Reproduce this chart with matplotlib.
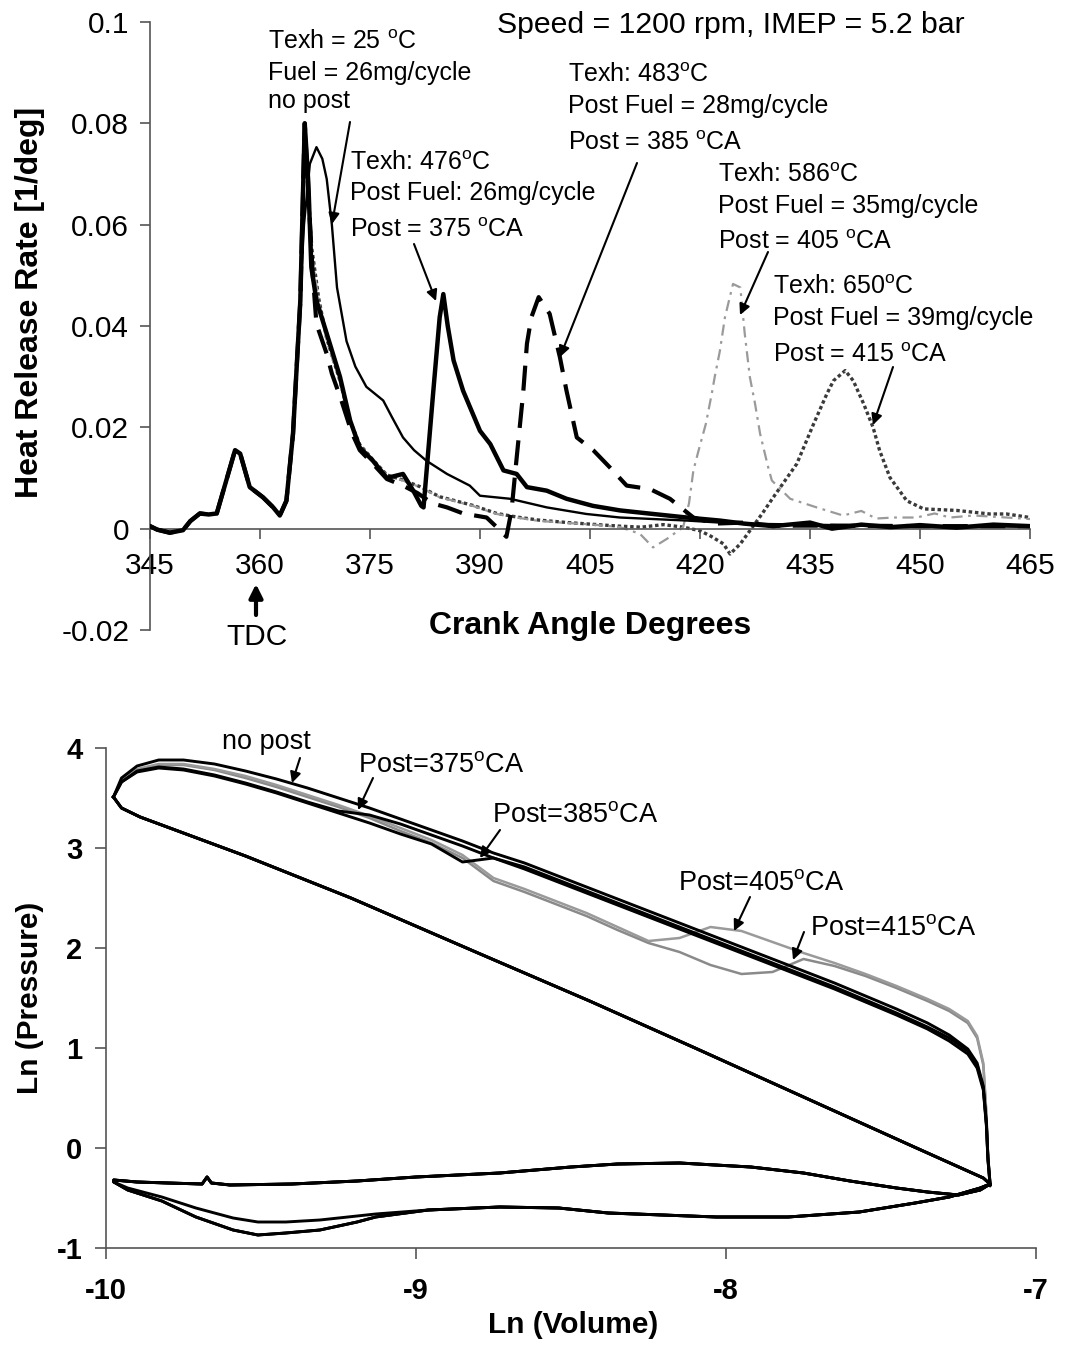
import matplotlib
matplotlib.use('Agg')
import matplotlib.pyplot as plt
import numpy as np

plt.rcParams['font.family'] = ['Liberation Sans', 'DejaVu Sans']
plt.rcParams['mathtext.fontset'] = 'custom'
plt.rcParams['mathtext.rm'] = 'Liberation Sans'
plt.rcParams['mathtext.it'] = 'Liberation Sans:italic'
plt.rcParams['mathtext.bf'] = 'Liberation Sans:bold'
plt.rcParams['lines.scale_dashes'] = False

# ---------------- Top chart data (crank angle vs heat release rate) -------------
x_ticks_top = [345, 360, 375, 390, 405, 420, 435, 450, 465]
y_ticks_top = [-0.02, 0, 0.02, 0.04, 0.06, 0.08, 0.1]
y_ticklabels_top = ['-0.02', '0', '0.02', '0.04', '0.06', '0.08', '0.1']

# common pilot + main combustion rise
pilot_deg = [345.0, 346.0, 347.7, 349.5, 350.5, 351.8, 353.0, 354.1, 355.5, 356.6,
             357.3, 358.6, 360.4, 361.8, 362.7, 363.6, 364.5, 365.5, 366.1]
pilot_hrr = [0.0005, -0.0002, -0.0008, -0.0003, 0.0015, 0.0030, 0.0028, 0.0030, 0.0100, 0.0155,
             0.0148, 0.0082, 0.0062, 0.0042, 0.0026, 0.0055, 0.0187, 0.0450, 0.0800]

# no post injection (thin solid)
nopost_deg = [366.0, 366.8, 367.7, 368.5, 369.1, 369.8, 370.5, 371.8, 373.0, 374.5, 376.8, 378.0,
              379.5, 381.0, 382.7, 385.5, 388.6, 390.0, 394.1, 399.1, 404.5, 409.1, 418.2, 425.0,
              435.0, 445.0, 455.0, 465.0]
nopost_hrr = [0.0600, 0.0720, 0.0753, 0.0730, 0.0690, 0.0600, 0.0476, 0.0370, 0.0320, 0.0280, 0.0253, 0.0220,
              0.0180, 0.0155, 0.0134, 0.0108, 0.0085, 0.0065, 0.0059, 0.0042, 0.0029, 0.0022, 0.0016, 0.0010,
              0.0008, 0.0005, 0.0005, 0.0004]

# post = 375 CA (thick solid)
p375_deg = [366.6, 367.0, 367.7, 369.1, 370.9, 372.3, 373.6, 375.4, 377.3, 379.5, 380.9, 382.0,
            382.3, 383.6, 384.5, 385.0, 385.6, 386.4, 387.7, 390.0, 391.4, 393.2, 395.0, 396.4,
            399.1, 401.8, 405.4, 409.1, 413.6, 418.2, 422.7, 426.0, 430.0, 435.0, 438.0, 442.0,
            446.0, 450.0, 455.0, 460.0, 465.0]
p375_hrr = [0.0680, 0.0516, 0.0450, 0.0385, 0.0300, 0.0213, 0.0160, 0.0134, 0.0100, 0.0108, 0.0075, 0.0045,
            0.0042, 0.0266, 0.0417, 0.0463, 0.0400, 0.0332, 0.0272, 0.0193, 0.0167, 0.0115, 0.0108, 0.0082,
            0.0075, 0.0059, 0.0045, 0.0036, 0.0029, 0.0022, 0.0016, 0.0010, 0.0005, 0.0012, 0.0000, 0.0008,
            0.0003, 0.0007, 0.0002, 0.0008, 0.0005]

# post = 385 CA (long dashes)
p385_deg = [366.6, 367.2, 367.7, 369.1, 369.8, 371.1, 372.5, 373.6, 375.4, 377.3, 379.5, 381.5,
            383.5, 385.5, 387.7, 390.9, 392.5, 393.6, 394.3, 395.0, 395.9, 396.4, 397.0, 398.0,
            399.5, 400.9, 401.8, 403.2, 405.5, 407.7, 410.0, 413.2, 415.9, 419.1, 422.0, 426.0,
            430.0, 440.0, 450.0, 465.0]
p385_hrr = [0.0660, 0.0500, 0.0404, 0.0345, 0.0306, 0.0253, 0.0190, 0.0155, 0.0128, 0.0098, 0.0085, 0.0070,
            0.0050, 0.0042, 0.0030, 0.0022, 0.0000, -0.0016, 0.0036, 0.0140, 0.0270, 0.0365, 0.0417, 0.0457,
            0.0424, 0.0338, 0.0272, 0.0180, 0.0154, 0.0121, 0.0085, 0.0078, 0.0059, 0.0022, 0.0010, 0.0012,
            0.0006, 0.0006, 0.0005, 0.0005]

# post = 405 CA (light grey)
p405_deg = [367.0, 368.0, 369.1, 370.9, 372.3, 373.6, 375.4, 377.3, 379.5, 381.8, 384.5, 386.4,
            389.0, 392.3, 395.0, 397.7, 401.0, 404.5, 407.0, 409.1, 411.8, 413.6, 415.5, 417.7,
            418.5, 419.1, 419.8, 420.8, 421.6, 422.0, 422.7, 423.4, 424.5, 425.5, 426.1, 426.8,
            427.5, 428.2, 429.3, 429.8, 432.3, 435.9, 439.5, 442.0, 444.0, 446.4, 449.5, 452.0,
            454.1, 457.3, 461.8, 465.0]
p405_hrr = [0.0550, 0.0450, 0.0370, 0.0290, 0.0210, 0.0165, 0.0135, 0.0105, 0.0095, 0.0082, 0.0062, 0.0055,
            0.0045, 0.0029, 0.0022, 0.0016, 0.0012, 0.0009, 0.0006, 0.0003, -0.0010, -0.0037, -0.0020, 0.0003,
            0.0050, 0.0115, 0.0154, 0.0207, 0.0266, 0.0299, 0.0350, 0.0417, 0.0483, 0.0476, 0.0385, 0.0299,
            0.0247, 0.0187, 0.0121, 0.0095, 0.0059, 0.0042, 0.0026, 0.0035, 0.0020, 0.0022, 0.0022, 0.0030,
            0.0022, 0.0026, 0.0022, 0.0019]

# post = 415 CA (dark dotted)
p415_deg = [367.0, 368.0, 369.1, 370.9, 372.3, 373.6, 375.4, 377.3, 379.5, 381.8, 384.5, 386.4,
            389.0, 392.3, 395.0, 398.0, 402.0, 405.0, 409.0, 412.0, 415.0, 417.7, 420.0, 421.5,
            423.2, 424.1, 425.5, 426.8, 428.5, 430.0, 433.2, 435.5, 437.3, 438.2, 439.8, 440.9,
            442.3, 443.6, 444.5, 445.9, 448.2, 450.5, 455.0, 459.5, 461.8, 465.0]
p415_hrr = [0.0560, 0.0455, 0.0375, 0.0292, 0.0212, 0.0166, 0.0136, 0.0106, 0.0096, 0.0083, 0.0063, 0.0056,
            0.0046, 0.0030, 0.0023, 0.0017, 0.0012, 0.0009, 0.0005, 0.0003, 0.0008, 0.0003, -0.0004, -0.0015,
            -0.0030, -0.0050, -0.0030, -0.0004, 0.0030, 0.0062, 0.0128, 0.0207, 0.0266, 0.0292, 0.0312, 0.0292,
            0.0247, 0.0200, 0.0154, 0.0101, 0.0055, 0.0039, 0.0036, 0.0029, 0.0029, 0.0022]

# ---------------- Bottom chart data (ln V vs ln P) -----------------------------
x_ticks_bot = [-10, -9, -8, -7]
y_ticks_bot = [-1, 0, 1, 2, 3, 4]

exp_lnV = [-9.976, -9.95, -9.90, -9.83, -9.75, -9.65, -9.55, -9.45, -9.35, -9.25, -9.15, -9.05,
           -8.95, -8.85, -8.75, -8.65, -8.55, -8.45, -8.35, -8.25, -8.15, -8.05, -7.95, -7.85,
           -7.75, -7.65, -7.55, -7.45, -7.35, -7.28, -7.22, -7.19, -7.17, -7.16, -7.155, -7.148]
lnP_nopost = [3.51, 3.70, 3.82, 3.88, 3.88, 3.84, 3.77, 3.69, 3.60, 3.50, 3.40, 3.29,
              3.18, 3.07, 2.95, 2.85, 2.73, 2.61, 2.49, 2.37, 2.25, 2.13, 2.01, 1.89,
              1.77, 1.65, 1.52, 1.39, 1.25, 1.13, 0.99, 0.85, 0.62, 0.25, -0.10, -0.36]
lnP_post375 = [3.51, 3.66, 3.77, 3.81, 3.79, 3.73, 3.65, 3.56, 3.46, 3.37, 3.33, 3.24,
               3.13, 3.02, 2.90, 2.79, 2.67, 2.55, 2.43, 2.31, 2.19, 2.07, 1.95, 1.83,
               1.71, 1.59, 1.46, 1.33, 1.19, 1.07, 0.94, 0.80, 0.58, 0.22, -0.12, -0.38]
lnP_post385 = [3.51, 3.66, 3.76, 3.80, 3.78, 3.72, 3.64, 3.55, 3.45, 3.35, 3.25, 3.14,
               3.04, 2.86, 2.90, 2.81, 2.69, 2.57, 2.45, 2.33, 2.21, 2.09, 1.97, 1.85,
               1.73, 1.61, 1.48, 1.35, 1.21, 1.10, 0.97, 0.83, 0.60, 0.24, -0.11, -0.37]
lnP_post405 = [3.51, 3.68, 3.79, 3.84, 3.84, 3.79, 3.72, 3.63, 3.53, 3.43, 3.32, 3.20,
               3.08, 2.93, 2.70, 2.59, 2.47, 2.35, 2.21, 2.07, 2.10, 2.21, 2.17, 2.06,
               1.95, 1.85, 1.74, 1.62, 1.49, 1.39, 1.27, 1.12, 0.85, 0.35, -0.05, -0.34]
lnP_post415 = [3.51, 3.67, 3.78, 3.83, 3.83, 3.78, 3.70, 3.61, 3.51, 3.41, 3.30, 3.17,
               3.05, 2.90, 2.67, 2.56, 2.44, 2.32, 2.18, 2.05, 1.96, 1.83, 1.74, 1.76,
               1.89, 1.82, 1.72, 1.60, 1.47, 1.37, 1.25, 1.10, 0.83, 0.33, -0.06, -0.35]

exh_lnV = [-7.148, -7.18, -7.25, -7.35, -7.45, -7.60, -7.75, -7.92, -8.15, -8.35, -8.50, -8.73,
           -9.00, -9.19, -9.40, -9.60, -9.66, -9.674, -9.69, -9.80, -9.90, -9.975]
exh_lnP = [-0.36, -0.42, -0.47, -0.44, -0.40, -0.33, -0.25, -0.19, -0.15, -0.16, -0.19, -0.25,
           -0.29, -0.33, -0.36, -0.37, -0.35, -0.29, -0.36, -0.35, -0.34, -0.32]

int_lnV = [-9.975, -9.93, -9.82, -9.71, -9.59, -9.51, -9.42, -9.31, -9.19, -9.13, -8.96, -8.73,
           -8.54, -8.38, -8.03, -7.80, -7.57, -7.39, -7.28, -7.18, -7.148]
int_lnP_deep = [-0.34, -0.42, -0.53, -0.69, -0.82, -0.87, -0.85, -0.82, -0.74, -0.69, -0.62, -0.59,
                -0.60, -0.65, -0.69, -0.69, -0.64, -0.55, -0.49, -0.40, -0.36]
int_lnP_shallow = [-0.34, -0.40, -0.49, -0.60, -0.70, -0.74, -0.74, -0.72, -0.68, -0.66, -0.62, -0.59,
                   -0.60, -0.65, -0.69, -0.69, -0.64, -0.55, -0.49, -0.40, -0.36]

comp_lnV = [-7.148, -7.17, -7.40, -7.80, -8.10, -8.44, -8.80, -9.21, -9.55, -9.89, -9.95, -9.976]
comp_lnP = [-0.36, -0.30, 0.02, 0.58, 1.00, 1.47, 1.95, 2.50, 2.92, 3.31, 3.40, 3.51]

# ---------------- Figure -------------------------------------------------------
W, H = 1065, 1345
fig = plt.figure(figsize=(W / 100, H / 100), dpi=100)


def fp(x, y):
    """pixel (from top-left) -> figure pixels (from bottom-left)"""
    return (x, H - y)


# ===== top axes =====
ax1 = fig.add_axes([150 / W, 1 - 630 / H, 880 / W, 608 / H])
ax1.set_xlim(345, 465)
ax1.set_ylim(-0.02, 0.1)

grey_light = '#9a9a9a'
grey_dark = '#3a3a3a'

d415 = np.concatenate([pilot_deg, p415_deg])
h415 = np.concatenate([pilot_hrr, p415_hrr])
ax1.plot(d415, h415, color=grey_dark, lw=2.4, dashes=(2.5, 2.0), zorder=2)

d405 = np.concatenate([pilot_deg, p405_deg])
h405 = np.concatenate([pilot_hrr, p405_hrr])
ax1.plot(d405, h405, color=grey_light, lw=1.6, dashes=(8, 4, 2, 4), zorder=2)

d385 = np.concatenate([pilot_deg, p385_deg])
h385 = np.concatenate([pilot_hrr, p385_hrr])
ax1.plot(d385, h385, color='black', lw=3.0, dashes=(18, 9), zorder=3)

dnp = np.concatenate([pilot_deg[:17], nopost_deg])
hnp = np.concatenate([pilot_hrr[:17], nopost_hrr])
ax1.plot(dnp, hnp, color='black', lw=1.7, zorder=4)

d375 = np.concatenate([pilot_deg, p375_deg])
h375 = np.concatenate([pilot_hrr, p375_hrr])
ax1.plot(d375, h375, color='black', lw=3.2, zorder=5, solid_joinstyle='round')

ax1.spines['top'].set_visible(False)
ax1.spines['right'].set_visible(False)
ax1.spines['bottom'].set_position(('data', 0))
for s in ['left', 'bottom']:
    ax1.spines[s].set_color('#555555')
    ax1.spines[s].set_linewidth(1.2)
ax1.set_xticks(x_ticks_top)
ax1.set_xticklabels([str(v) for v in x_ticks_top])
ax1.set_yticks(y_ticks_top)
ax1.set_yticklabels(y_ticklabels_top)
ax1.tick_params(axis='x', direction='out', length=7, width=1.2, color='#555555',
                labelsize=21.5, pad=10)
ax1.tick_params(axis='y', direction='out', length=7, width=1.2, color='#555555',
                labelsize=21.5, pad=8)

ax1.set_ylabel('Heat Release Rate [1/deg]', fontsize=23, fontweight='bold')
ax1.yaxis.set_label_coords((30 - 150) / 880, (630 - 302) / 608)
ax1.yaxis.label.set_va('center')
ax1.set_xlabel('Crank Angle Degrees', fontsize=23, fontweight='bold')
ax1.xaxis.set_label_coords((590 - 150) / 880, (630 - 626) / 608)
ax1.xaxis.label.set_va('center')

# ===== bottom axes =====
ax2 = fig.add_axes([106 / W, 1 - 1248 / H, 930 / W, 500 / H])
ax2.set_xlim(-10, -7)
ax2.set_ylim(-1, 4)

cases = [
    (lnP_post415, int_lnP_deep, '#8a8a8a', 1.8),
    (lnP_post405, int_lnP_deep, '#9a9a9a', 1.8),
    (lnP_post385, int_lnP_deep, 'black', 2.1),
    (lnP_post375, int_lnP_deep, 'black', 2.1),
    (lnP_nopost, int_lnP_shallow, 'black', 2.1),
]
for exp_p, int_p, col, lw in cases:
    lv = np.concatenate([exp_lnV, exh_lnV, int_lnV, comp_lnV])
    lp = np.concatenate([exp_p, exh_lnP, int_p, comp_lnP])
    ax2.plot(lv, lp, color=col, lw=lw, solid_joinstyle='round')

ax2.spines['top'].set_visible(False)
ax2.spines['right'].set_visible(False)
for s in ['left', 'bottom']:
    ax2.spines[s].set_color('#555555')
    ax2.spines[s].set_linewidth(1.2)
ax2.set_xticks(x_ticks_bot)
ax2.set_xticklabels([str(v) for v in x_ticks_bot])
ax2.set_yticks(y_ticks_bot)
ax2.set_yticklabels([str(v) for v in y_ticks_bot])
ax2.tick_params(axis='x', direction='out', length=8, width=1.2, color='#555555',
                labelsize=21, pad=13)
ax2.tick_params(axis='y', direction='out', length=8, width=1.2, color='#555555',
                labelsize=21, pad=9)
for lab in ax2.get_xticklabels() + ax2.get_yticklabels():
    lab.set_fontweight('bold')

ax2.set_ylabel('Ln (Pressure)', fontsize=21.5, fontweight='bold')
ax2.yaxis.set_label_coords((30 - 106) / 930, 0.5)
ax2.yaxis.label.set_va('center')
ax2.set_xlabel('Ln (Volume)', fontsize=21.5, fontweight='bold')
ax2.xaxis.set_label_coords((573 - 106) / 930, (1248 - 1325) / 500)
ax2.xaxis.label.set_va('center')

# ---------------- text annotations --------------------------------------------
deg = r'$^{\mathrm{o}}$'
top_texts = [
    ('Speed = 1200 rpm, IMEP = 5.2 bar', 497, 25, 21.8),
    ('Texh = 25 ' + deg + 'C', 268, 42, 18),
    ('Fuel = 26mg/cycle', 268, 73, 18),
    ('no post', 268, 101, 18),
    ('Texh: 476' + deg + 'C', 350, 163, 18),
    ('Post Fuel: 26mg/cycle', 350, 193, 18),
    ('Post = 375 ' + deg + 'CA', 350, 230, 18),
    ('Texh: 483' + deg + 'C', 568, 75, 18),
    ('Post Fuel = 28mg/cycle', 568, 106, 18),
    ('Post = 385 ' + deg + 'CA', 568, 143, 18),
    ('Texh: 586' + deg + 'C', 718, 175, 18),
    ('Post Fuel = 35mg/cycle', 718, 206, 18),
    ('Post = 405 ' + deg + 'CA', 718, 242, 18),
    ('Texh: 650' + deg + 'C', 773, 287, 18),
    ('Post Fuel = 39mg/cycle', 773, 318, 18),
    ('Post = 415 ' + deg + 'CA', 773, 355, 18),
    ('no post', 222, 742, 19.5),
    ('Post=375' + deg + 'CA', 358, 765, 19.5),
    ('Post=385' + deg + 'CA', 492, 815, 19.5),
    ('Post=405' + deg + 'CA', 678, 883, 19.5),
    ('Post=415' + deg + 'CA', 810, 928, 19.5),
]
for s, x, y, fs in top_texts:
    fig.text(x / W, 1 - y / H, s, fontsize=fs, ha='left', va='center')

fig.text(257 / W, 1 - 637 / H, 'TDC', fontsize=21.5, ha='center', va='center')

arrows = [
    ((350, 122), (332, 224)),
    ((414, 244), (436, 301)),
    ((637, 163), (560, 357)),
    ((768, 252), (740, 315)),
    ((893, 367), (873, 425)),
    ((300, 758), (292, 783)),
    ((373, 778), (358, 810)),
    ((500, 830), (480, 858)),
    ((750, 897), (734, 931)),
    ((804, 932), (793, 960)),
]
for tail, head in arrows:
    fig.add_artist(matplotlib.patches.FancyArrowPatch(
        posA=fp(*tail), posB=fp(*head), transform=None,
        arrowstyle='-|>', mutation_scale=16, lw=1.5, color='black',
        shrinkA=0, shrinkB=0))

fig.add_artist(matplotlib.patches.FancyArrowPatch(
    posA=fp(256, 615), posB=fp(256, 584), transform=None,
    arrowstyle='-|>', mutation_scale=20, lw=3, color='black',
    shrinkA=0, shrinkB=0))

fig.savefig('out.png', dpi=100)
